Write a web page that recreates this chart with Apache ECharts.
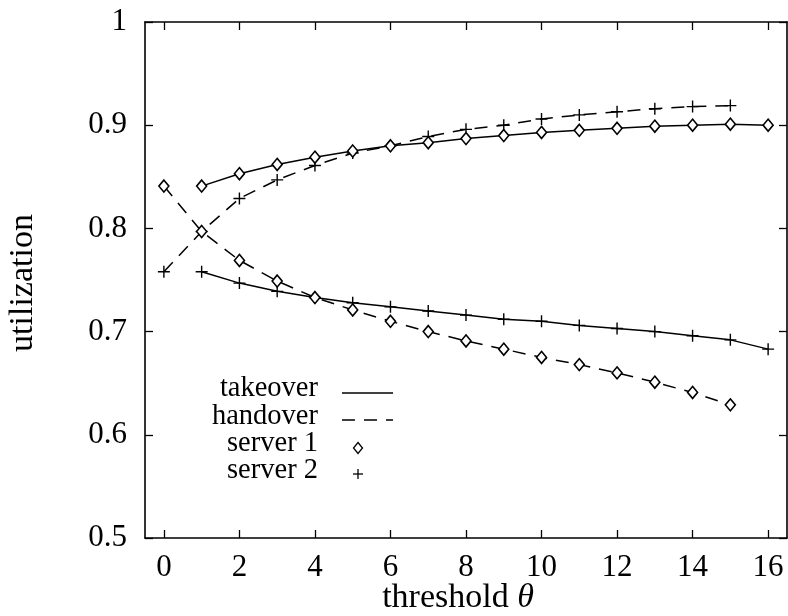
<!DOCTYPE html>
<html>
<head>
<meta charset="utf-8">
<script src="https://cdn.jsdelivr.net/npm/echarts@6/dist/echarts.min.js"></script>
<style>
html,body{margin:0;padding:0;background:#fff;}
#c{width:788px;height:616px;}
</style>
</head>
<body>
<div id="c"></div>
<script>
// ---- data ----
const takeoverX = [1,2,3,4,5,6,7,8,9,10,11,12,13,14,15,16];
const takeoverServer1 = [0.841,0.853,0.862,0.869,0.875,0.880,0.883,0.887,0.890,0.893,0.895,0.897,0.899,0.900,0.901,0.900];
const takeoverServer2 = [0.758,0.747,0.739,0.733,0.728,0.724,0.720,0.716,0.712,0.710,0.706,0.703,0.700,0.696,0.692,0.683];
const handoverX = [0,1,2,3,4,5,6,7,8,9,10,11,12,13,14,15];
const handoverServer1 = [0.841,0.797,0.769,0.749,0.733,0.721,0.710,0.700,0.691,0.683,0.675,0.668,0.660,0.651,0.641,0.629];
const handoverServer2 = [0.758,0.797,0.829,0.847,0.861,0.873,0.880,0.889,0.896,0.900,0.906,0.910,0.913,0.916,0.918,0.919];
const xTicks = [0,2,4,6,8,10,12,14,16];
const yTicks = [0.5,0.6,0.7,0.8,0.9,1];
const legendLabels = ['takeover','handover','server 1','server 2'];

const FONT = '"Liberation Serif", "DejaVu Serif", serif';
const PLUS = 'path://M0,5L10,5M5,0L5,10';

function pairs(xs, ys){ return xs.map((x,i)=>[x, ys[i]]); }

const lineW = 1.5;
function mkSeries(name, xs, ys, dashed, symbol){
  const isPlus = symbol === 'plus';
  return {
    name: name, type: 'line', data: pairs(xs, ys),
    symbol: isPlus ? PLUS : 'diamond',
    symbolSize: isPlus ? 12 : [10, 12],
    showAllSymbol: true,
    lineStyle: {color:'#000', width: lineW, type: dashed ? [13, 9] : 'solid'},
    itemStyle: isPlus ? {color:'none', borderColor:'#000', borderWidth:1.4}
                      : {color:'#fff', borderColor:'#000', borderWidth:1.6},
    z: isPlus ? 3 : 4,
    animation: false
  };
}

const tickStyle = {show:true, inside:true, length:8, lineStyle:{color:'#000', width:1.3}};
const axisLineStyle = {show:true, onZero:false, lineStyle:{color:'#000', width:1.6}};

const chart = echarts.init(document.getElementById('c'), null, {renderer:'canvas'});
chart.setOption({
  backgroundColor:'#fff',
  animation:false,
  grid:{left:145, right:1, top:22, bottom:78, containLabel:false, outerBoundsMode:'none'},
  xAxis:[{
    type:'value', min:-0.5, max:16.5, position:'bottom',
    axisLine: axisLineStyle,
    axisTick: Object.assign({customValues: xTicks}, tickStyle),
    axisLabel:{customValues: xTicks, color:'#000', fontFamily:FONT, fontSize:31, margin:14},
    splitLine:{show:false},
    name:'threshold {i|θ}', nameLocation:'middle', nameGap:43, nameMoveOverlap:false,
    nameTextStyle:{color:'#000', fontFamily:FONT, fontSize:34, padding:[0,16,0,0],
      rich:{i:{fontStyle:'italic', fontFamily:FONT, fontSize:34, color:'#000'}}}
  },{
    type:'value', min:-0.5, max:16.5, position:'top',
    axisLine: axisLineStyle,
    axisTick: Object.assign({customValues: xTicks}, tickStyle),
    axisLabel:{show:false}, splitLine:{show:false}
  }],
  yAxis:[{
    type:'value', min:0.5, max:1, interval:0.1, position:'left',
    axisLine: axisLineStyle,
    axisTick: Object.assign({customValues: yTicks}, tickStyle),
    axisLabel:{customValues: yTicks, color:'#000', fontFamily:FONT, fontSize:31, margin:18,
      formatter: v => String(+v.toFixed(2))},
    splitLine:{show:false},
    name:'utilization', nameLocation:'middle', nameGap:105, nameRotate:90, nameMoveOverlap:false,
    nameTextStyle:{color:'#000', fontFamily:FONT, fontSize:34, padding:[0,6,0,0]}
  },{
    type:'value', min:0.5, max:1, interval:0.1, position:'right',
    axisLine: axisLineStyle,
    axisTick: Object.assign({customValues: yTicks}, tickStyle),
    axisLabel:{show:false}, splitLine:{show:false}
  }],
  series:[
    mkSeries('takeover server 1', takeoverX, takeoverServer1, false, 'diamond'),
    mkSeries('takeover server 2', takeoverX, takeoverServer2, false, 'plus'),
    mkSeries('handover server 1', handoverX, handoverServer1, true, 'diamond'),
    mkSeries('handover server 2', handoverX, handoverServer2, true, 'plus')
  ],
  graphic:[
    {type:'text', right:788-318, top:374, style:{text:legendLabels[0], font:'28.5px '+FONT, fill:'#000', textAlign:'right'}},
    {type:'text', right:788-318, top:402, style:{text:legendLabels[1], font:'28.5px '+FONT, fill:'#000', textAlign:'right'}},
    {type:'text', right:788-318, top:429, style:{text:legendLabels[2], font:'28.5px '+FONT, fill:'#000', textAlign:'right'}},
    {type:'text', right:788-318, top:456, style:{text:legendLabels[3], font:'28.5px '+FONT, fill:'#000', textAlign:'right'}},
    {type:'line', shape:{x1:342, y1:393, x2:393, y2:393}, style:{stroke:'#000', lineWidth:lineW}},
    {type:'line', shape:{x1:342, y1:420, x2:393, y2:420}, style:{stroke:'#000', lineWidth:lineW, lineDash:[13,9]}},
    {type:'polygon', shape:{points:[[358,442.5],[362.5,448],[358,453.5],[353.5,448]]}, style:{fill:'#fff', stroke:'#000', lineWidth:1.3}},
    {type:'line', shape:{x1:353, y1:474, x2:363, y2:474}, style:{stroke:'#000', lineWidth:1.3}},
    {type:'line', shape:{x1:358, y1:469, x2:358, y2:479}, style:{stroke:'#000', lineWidth:1.3}}
  ]
});
</script>
</body>
</html>
